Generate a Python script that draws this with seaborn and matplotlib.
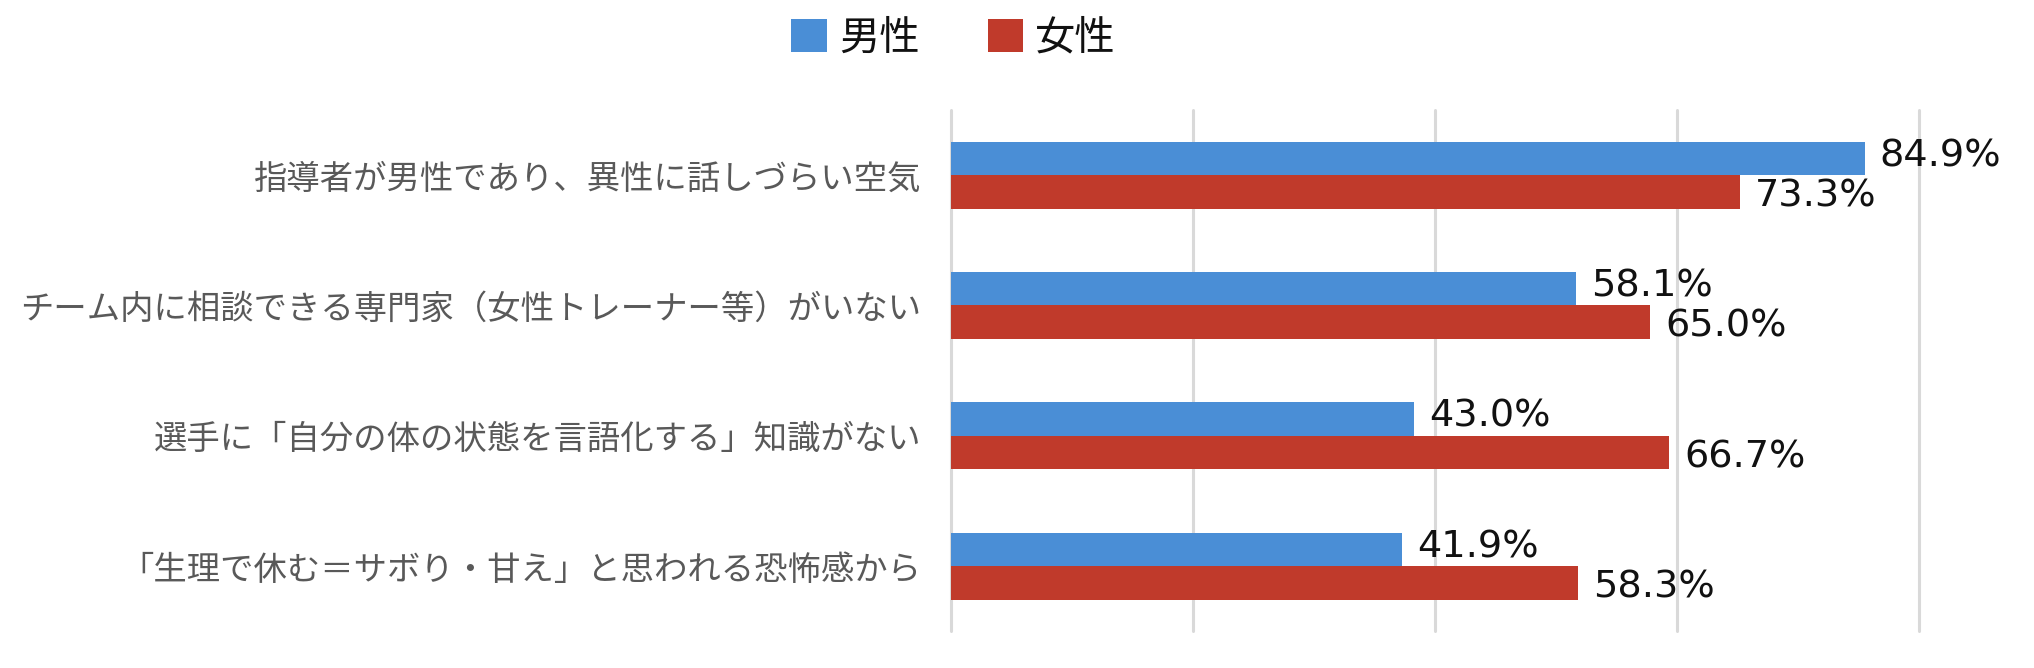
import matplotlib
matplotlib.use("Agg")
import matplotlib.pyplot as plt
import seaborn as sns
import pandas as pd

categories = [
    "指導者が男性であり、異性に話しづらい空気",
    "チーム内に相談できる専門家（女性トレーナー等）がいない",
    "選手に「自分の体の状態を言語化する」知識がない",
    "「生理で休む＝サボり・甘え」と思われる恐怖感から",
]
series_names = ["男性", "女性"]
male_values = [84.9, 58.1, 43.0, 41.9]
female_values = [73.3, 65.0, 66.7, 58.3]
grid_ticks = [0, 22.5, 45, 67.5, 90]

colors = {"男性": "#4A8ED6", "女性": "#C03A2B"}

df = pd.DataFrame({
    "category": categories * 2,
    "group": [series_names[0]] * len(categories) + [series_names[1]] * len(categories),
    "value": male_values + female_values,
})

sns.set_theme(style="white")
plt.rcParams["font.family"] = ["Noto Sans CJK JP", "DejaVu Sans"]

fig = plt.figure(figsize=(20.34, 6.68), dpi=100)
ax = fig.add_axes([0.4674, 0.0548, 0.4763, 0.7808])

sns.barplot(data=df, y="category", x="value", hue="group", order=categories,
            hue_order=series_names, palette=colors, orient="h",
            width=0.514, gap=0, saturation=1, edgecolor="none", ax=ax, legend=False)

ax.set_xlim(0, 90)
ax.set_xticks(grid_ticks)
ax.set_xticklabels([])
ax.grid(axis="x", color="#D9D9D9", linewidth=2.2)
ax.grid(axis="y", visible=False)
ax.set_axisbelow(True)
for gl in ax.get_xgridlines():
    gl.set_clip_on(False)
for s in ax.spines.values():
    s.set_visible(False)
ax.set_xlabel("")
ax.set_ylabel("")
ax.tick_params(axis="y", length=0, pad=21, labelsize=24, labelcolor="#595959")
ax.tick_params(axis="x", length=0)

offsets = [1.5, -3.2]
for cont, dy in zip(ax.containers, offsets):
    texts = ax.bar_label(cont, fmt="%.1f%%", padding=11, fontsize=27.5,
                         color="#111111", family="DejaVu Sans")
    for t in texts:
        t.xyann = (11, dy)
        t.set_clip_on(False)

from matplotlib.patches import Patch
handles = [Patch(facecolor=colors[n], edgecolor="none") for n in series_names]
fig.legend(handles, series_names, loc="center", bbox_to_anchor=(0.4688, 0.943),
           ncol=2, frameon=False, fontsize=29, handlelength=0.875, handleheight=0.875,
           handletextpad=0.3, columnspacing=1.7, labelcolor="#111111")

fig.savefig("out.png", dpi=100)
